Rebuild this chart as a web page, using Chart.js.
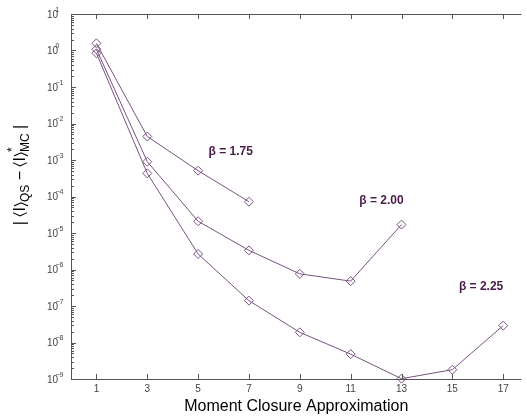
<!DOCTYPE html>
<html>
<head>
<meta charset="utf-8">
<script src="https://cdn.jsdelivr.net/npm/chart.js@4"></script>
<style>
html,body{margin:0;padding:0;background:#fff;}
#wrap{width:527px;height:418px;}
</style>
</head>
<body>
<div id="wrap"><canvas id="c" width="527" height="418"></canvas></div>
<script>
const xTicks = [1, 3, 5, 7, 9, 11, 13, 15, 17];
const yTickExponents = [1, 0, -1, -2, -3, -4, -5, -6, -7, -8, -9];
const xBeta175 = [1, 3, 5, 7];
const beta175 = [1.57, 4.4e-3, 5.1e-4, 7.2e-5];
const xBeta200 = [1, 3, 5, 7, 9, 11, 13];
const beta200 = [1.08, 9.0e-4, 2.1e-5, 3.35e-6, 7.6e-7, 4.8e-7, 1.7e-5];
const xBeta225 = [1, 3, 5, 7, 9, 11, 13, 15, 17];
const beta225 = [0.84, 4.3e-4, 2.66e-6, 1.4e-7, 1.9e-8, 4.8e-9, 1.02e-9, 1.8e-9, 2.9e-8];
const seriesLabels = ['β = 1.75', 'β = 2.00', 'β = 2.25'];

const LINE = '#7a5282';
const LABEL = '#4a1a4a';
const AXIS = '#555555';
const FONT = '"Liberation Sans", Arial, Helvetica, sans-serif';

function pts(xs, ys) { return xs.map((x, i) => ({x: x, y: ys[i]})); }
function ds(label, xs, ys) {
  return {
    label: label, data: pts(xs, ys),
    borderColor: LINE, borderWidth: 1, backgroundColor: 'rgba(0,0,0,0)',
    pointStyle: 'rectRot', pointRadius: 4.5, pointBorderColor: LINE,
    pointBackgroundColor: 'rgba(0,0,0,0)', pointBorderWidth: 1,
    tension: 0, clip: false
  };
}

const decor = {
  id: 'decor',
  afterDraw(chart) {
    const ctx = chart.ctx;
    const a = chart.chartArea;
    const xs = chart.scales.x, ys = chart.scales.y;
    ctx.save();
    ctx.strokeStyle = AXIS;
    ctx.lineWidth = 1;
    ctx.beginPath();
    ctx.moveTo(a.left + 0.5, a.bottom + 0.5);
    ctx.lineTo(a.left + 0.5, a.top + 0.5);
    ctx.lineTo(a.right, a.top + 0.5);
    ctx.moveTo(a.left + 0.5, a.bottom + 0.5);
    ctx.lineTo(a.right, a.bottom + 0.5);
    ctx.stroke();
    ctx.beginPath();
    xTicks.forEach(v => {
      const px = Math.round(xs.getPixelForValue(v)) + 0.5;
      ctx.moveTo(px, a.bottom); ctx.lineTo(px, a.bottom - 5);
      ctx.moveTo(px, a.top); ctx.lineTo(px, a.top + 5);
    });
    yTickExponents.forEach(e => {
      const py = Math.round(ys.getPixelForValue(Math.pow(10, e))) + 0.5;
      ctx.moveTo(a.left, py); ctx.lineTo(a.left + 5, py);
      if (e > -9) {
        for (let m = 2; m <= 9; m++) {
          const v = m * Math.pow(10, e - 1);
          const q = Math.round(ys.getPixelForValue(v)) + 0.5;
          ctx.moveTo(a.left, q); ctx.lineTo(a.left + 3, q);
        }
      }
    });
    ctx.stroke();
    ctx.fillStyle = '#444';
    ctx.textBaseline = 'middle';
    ctx.textAlign = 'left';
    yTickExponents.forEach(e => {
      const py = ys.getPixelForValue(Math.pow(10, e));
      ctx.font = '10px ' + FONT;
      ctx.fillText('10', 47, py + 1);
      ctx.font = '7px ' + FONT;
      ctx.fillText(e < 0 ? '\u2212' + (-e) : String(e), 55.5, py - 4);
    });
    ctx.fillStyle = LABEL;
    ctx.font = 'bold 12px ' + FONT;
    ctx.textAlign = 'center';
    const pos = [[6.28, 1.66e-3], [12.21, 7.9e-5], [16.13, 3.3e-7]];
    seriesLabels.forEach((t, i) => {
      ctx.fillText(t, xs.getPixelForValue(pos[i][0]), ys.getPixelForValue(pos[i][1]));
    });
    ctx.translate(20, 175);
    ctx.rotate(-Math.PI / 2);
    ctx.fillStyle = '#000';
    ctx.textBaseline = 'alphabetic';
    ctx.textAlign = 'left';
    const big = '16px ' + FONT, small = '12px ' + FONT;
    const parts = [
      {t: '| \u2329I\u232A', f: big, dy: 0},
      {t: 'QS', f: small, dy: 4},
      {t: ' \u2212 \u2329I\u232A', f: big, dy: 0},
      {t: '*', f: small, dy: -9, stack: true},
      {t: 'MC', f: small, dy: 4},
      {t: ' |', f: big, dy: 0}
    ];
    let total = 0;
    parts.forEach(p => { ctx.font = p.f; p.w = p.stack ? 0 : ctx.measureText(p.t).width; total += p.w; });
    let x = -total / 2;
    parts.forEach(p => { ctx.font = p.f; ctx.fillText(p.t, x, 5 + p.dy); x += p.w; });
    ctx.restore();
  }
};

new Chart(document.getElementById('c'), {
  type: 'line',
  data: { datasets: [ds(seriesLabels[0], xBeta175, beta175), ds(seriesLabels[1], xBeta200, beta200), ds(seriesLabels[2], xBeta225, beta225)] },
  options: {
    responsive: false, animation: false, devicePixelRatio: 1,
    layout: { padding: { top: 14, right: 0, left: 0, bottom: 0 } },
    plugins: { legend: { display: false }, tooltip: { enabled: false } },
    scales: {
      x: {
        type: 'linear', min: 0, max: 17.72,
        afterBuildTicks: s => { s.ticks = xTicks.map(v => ({value: v})); },
        afterFit: s => { s.height = 39; },
        grid: { display: false, drawTicks: false },
        border: { display: false },
        ticks: { color: '#444', font: { size: 10, family: FONT }, padding: 4, maxRotation: 0, autoSkip: false },
        title: { display: true, text: 'Moment Closure Approximation', color: '#000', font: { size: 16, family: FONT }, padding: { top: 0, bottom: 2 } }
      },
      y: {
        type: 'logarithmic', min: 1e-9, max: 10,
        afterFit: s => { s.width = 71; },
        grid: { display: false, drawTicks: false },
        border: { display: false },
        ticks: { display: false }
      }
    }
  },
  plugins: [decor]
});
</script>
</body>
</html>
